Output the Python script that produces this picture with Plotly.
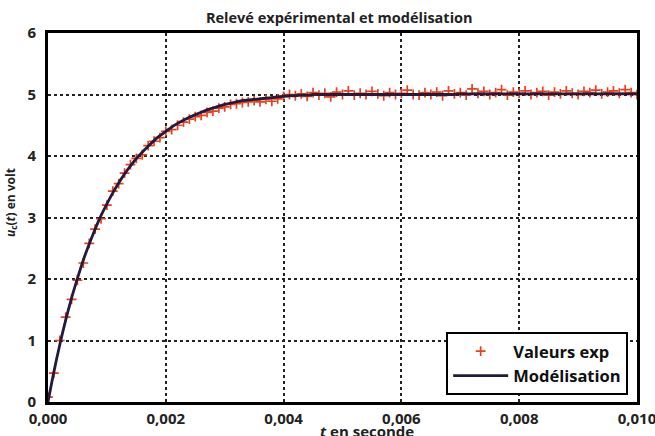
import plotly.graph_objects as go

t_s = [k * 0.0001 for k in range(101)]

u_exp = [0.08, 0.47, 1.00, 1.38, 1.67, 1.98, 2.26, 2.58, 2.81, 2.98,
         3.20, 3.43, 3.55, 3.72, 3.86, 3.96, 4.02, 4.17, 4.24, 4.30,
         4.40, 4.43, 4.50, 4.55, 4.60, 4.64, 4.66, 4.71, 4.73, 4.78,
         4.80, 4.84, 4.85, 4.87, 4.88, 4.90, 4.88, 4.92, 4.89, 4.93,
         4.97, 5.00, 4.98, 5.01, 4.97, 5.03, 4.99, 5.02, 4.96, 5.04,
         5.00, 5.06, 4.99, 5.02, 5.00, 5.05, 5.01, 4.98, 5.03, 5.00,
         5.02, 5.07, 5.00, 4.99, 5.03, 5.00, 5.04, 4.98, 5.06, 5.01,
         5.03, 4.99, 5.09, 5.02, 5.05, 5.00, 5.03, 5.08, 4.99, 5.04,
         5.02, 5.06, 5.00, 5.03, 5.05, 4.99, 5.04, 5.01, 5.06, 5.02,
         5.00, 5.05, 5.03, 5.07, 5.01, 5.04, 5.06, 5.02, 5.08, 5.03,
         5.00]

u_model = [0.00, 0.49, 0.93, 1.33, 1.69, 2.01, 2.31, 2.57, 2.81, 3.03,
           3.22, 3.40, 3.56, 3.71, 3.84, 3.96, 4.06, 4.16, 4.25, 4.33,
           4.40, 4.47, 4.53, 4.58, 4.63, 4.67, 4.71, 4.75, 4.78, 4.81,
           4.84, 4.86, 4.88, 4.90, 4.91, 4.92, 4.93, 4.94, 4.95, 4.96,
           4.97, 4.98, 4.98, 4.99, 4.99, 5.00, 5.00, 5.00, 5.00, 5.00,
           5.00, 5.00, 5.00, 5.00, 5.00, 5.00, 5.00, 5.00, 5.00, 5.00,
           5.00, 5.00, 5.00, 5.00, 5.00, 5.00, 5.00, 5.00, 5.00, 5.00,
           5.01, 5.01, 5.01, 5.01, 5.01, 5.01, 5.01, 5.01, 5.01, 5.01,
           5.01, 5.01, 5.01, 5.01, 5.01, 5.01, 5.01, 5.01, 5.01, 5.01,
           5.01, 5.01, 5.01, 5.01, 5.01, 5.01, 5.01, 5.01, 5.01, 5.01,
           5.01]

x_ticks = [0.000, 0.002, 0.004, 0.006, 0.008, 0.010]
x_labels = ["0,000", "0,002", "0,004", "0,006", "0,008", "0,010"]
y_ticks = [0, 1, 2, 3, 4, 5, 6]

FONT = "Open Sans"
TXT = "#222222"

fig = go.Figure()
fig.add_trace(go.Scatter(
    x=t_s, y=u_exp, mode="markers", name="Valeurs exp",
    marker=dict(symbol="cross-thin", size=7, color="#e8401c",
                line=dict(color="#e8401c", width=1.7)),
))
fig.add_trace(go.Scatter(
    x=t_s, y=u_model, mode="lines", name="Modélisation",
    line=dict(color="#231a3d", width=2.8, shape="spline"),
))

axis_common = dict(
    showline=True, mirror=True, linecolor="black", linewidth=3,
    showgrid=True, gridcolor="#222222", gridwidth=2, griddash="dot",
    zeroline=False, ticks="", automargin=False, ticklabeloverflow="allow",
    tickfont=dict(family=FONT, size=15, color=TXT, weight="bold"),
)

fig.update_xaxes(range=[0, 0.0100001], tickvals=x_ticks, ticktext=x_labels,
                 ticklabelstandoff=1, **axis_common)
fig.update_yaxes(range=[0, 6], tickvals=y_ticks, tickformat="d",
                 ticklabelstandoff=6, **axis_common)

fig.add_annotation(
    text="<i>t</i> en seconde", xref="paper", yref="paper", x=0.542, y=0,
    xanchor="center", yanchor="middle", yshift=-29, showarrow=False,
    font=dict(family=FONT, size=15, color=TXT, weight="bold"),
)
fig.add_annotation(
    text="<i>u</i><sub>c</sub>(<i>t</i>) en volt", xref="paper", yref="paper",
    x=0, y=0.539, xanchor="center", yanchor="middle", xshift=-37, textangle=-90,
    showarrow=False,
    font=dict(family=FONT, size=12, color=TXT, weight="bold"),
)

fig.update_layout(
    width=655, height=436,
    margin=dict(l=48, r=18, t=33, b=34),
    paper_bgcolor="white", plot_bgcolor="white",
    separators=", ",
    title=dict(text="Relevé expérimental et modélisation", x=0.518, xanchor="center",
               y=0.959, yanchor="middle",
               font=dict(family=FONT, size=14.5, color=TXT, weight="bold")),
    legend=dict(x=0.985, y=0.019, xanchor="right", yanchor="bottom",
                bgcolor="white", bordercolor="black", borderwidth=2,
                font=dict(family=FONT, size=16.5, color="#111111", weight="bold"),
                itemwidth=55, tracegroupgap=0),
    showlegend=True,
)

fig.write_html("out.html", config={"displayModeBar": False},
               post_script="document.body.style.margin='0';")
